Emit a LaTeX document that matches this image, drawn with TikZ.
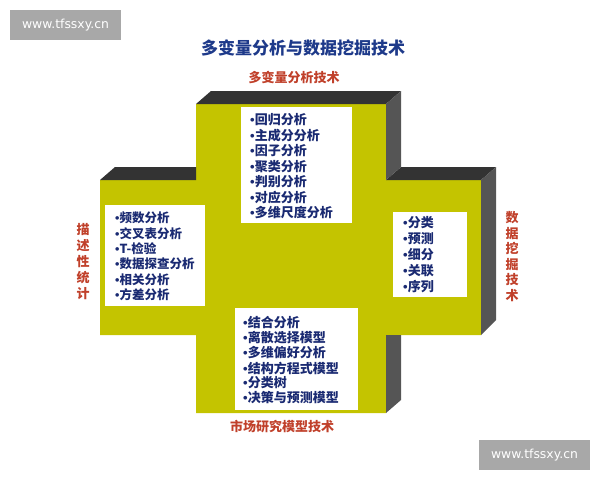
\documentclass[tikz,border=0pt]{standalone}
\usepackage{fontspec}
\newfontfamily\cjk{Noto Sans CJK SC}
\newfontfamily\wmfont{DejaVu Sans}
\newfontfamily\dotfont{Liberation Sans}
\newcommand{\bul}{{\dotfont\bfseries •}}
\definecolor{crossyellow}{HTML}{C4C400}
\definecolor{topdark}{HTML}{333333}
\definecolor{sidegray}{HTML}{555555}
\definecolor{itemblue}{HTML}{1A2A72}
\definecolor{titleblue}{HTML}{1E3A8A}
\definecolor{labelred}{HTML}{C0402A}
\definecolor{markgray}{HTML}{A8A8A8}
\tikzset{
	item/.style={anchor=west, inner sep=0pt, text=itemblue, font=\cjk\bfseries\fontsize{13}{13}\selectfont},
	armlabel/.style={inner sep=0pt, text=labelred, align=center, font=\cjk\bfseries\fontsize{13}{16}\selectfont},
	watermark/.style={fill=markgray, text=white, minimum width=111pt, minimum height=30pt, inner sep=0pt, font=\wmfont\fontsize{12.4}{12.4}\selectfont}
}

\begin{document}
\begin{tikzpicture}[x=1pt,y=-1pt]
			\useasboundingbox (0,0) rectangle (600,480);
			\fill[crossyellow] (196,104) -- (386,104) -- (386,180) -- (481,180) -- (481,335) -- (386,335) -- (386,413) -- (196,413) -- (196,335) -- (100,335) -- (100,180) -- (196,180) -- cycle; % draw front of cross
			\fill[topdark] (196,104) -- (211,91) -- (401,91) -- (386,104) -- cycle; % draw top of upper arm
			\fill[topdark] (100,180) -- (115,167) -- (196,167) -- (196,180) -- cycle; % draw top of left arm
			\fill[topdark] (386,180) -- (401,167) -- (496,167) -- (481,180) -- cycle; % draw top of right arm
			\fill[sidegray] (386,104) -- (401,91) -- (401,167) -- (386,180) -- cycle; % draw side of upper arm
			\fill[sidegray] (481,180) -- (496,167) -- (496,320) -- (481,335) -- cycle; % draw side of right arm
			\fill[sidegray] (386,335) -- (401,335) -- (401,400) -- (386,413) -- cycle; % draw side of lower arm
			\fill[white] (241,107) rectangle (352,223); % draw white boxes
			\fill[white] (105,205) rectangle (205,306);
			\fill[white] (393,212) rectangle (467,297);
			\fill[white] (235,308) rectangle (358,410);
			\foreach \t [count=\i] in {回归分析,主成分分析,因子分析,聚类分析,判别分析,对应分析,多维尺度分析}
				\node[item] (mv\i) at (250,104.5+15.5*\i) {\bul\t}; % upper list
			\foreach \t [count=\i] in {频数分析,交叉表分析,T-检验,数据探查分析,相关分析,方差分析}
				\node[item, font=\cjk\bfseries\fontsize{12.5}{12.5}\selectfont] (ds\i) at (115,202.6+15.4*\i) {\bul\t}; % left list
			\foreach \t [count=\i] in {分类,预测,细分,关联,序列}
				\node[item] (dm\i) at (403,207+16*\i) {\bul\t}; % right list
			\foreach \t [count=\i] in {结合分析,离散选择模型,多维偏好分析,结构方程式模型,分类树,决策与预测模型}
				\node[item] (mr\i) at (243,308+15*\i) {\bul\t}; % lower list
			\node[inner sep=0pt, text=titleblue, font=\cjk\bfseries\fontsize{17}{17}\selectfont] (title) at (303,48) {多变量分析与数据挖掘技术};
			\node[armlabel] (mvlabel) at (294,77) {多变量分析技术};
			\node[armlabel] (dslabel) at (83,261.5) {描\\述\\性\\统\\计};
			\node[armlabel, font=\cjk\bfseries\fontsize{13}{15.5}\selectfont] (dmlabel) at (512,256.5) {数\\据\\挖\\掘\\技\\术};
			\node[armlabel] (mrlabel) at (282,427) {市场研究模型技术};
			\node[watermark] (wmtop) at (65.5,25) {www.tfssxy.cn}; % draw watermarks
			\node[watermark] (wmbottom) at (534.5,455) {www.tfssxy.cn};
		\end{tikzpicture}
\end{document}
